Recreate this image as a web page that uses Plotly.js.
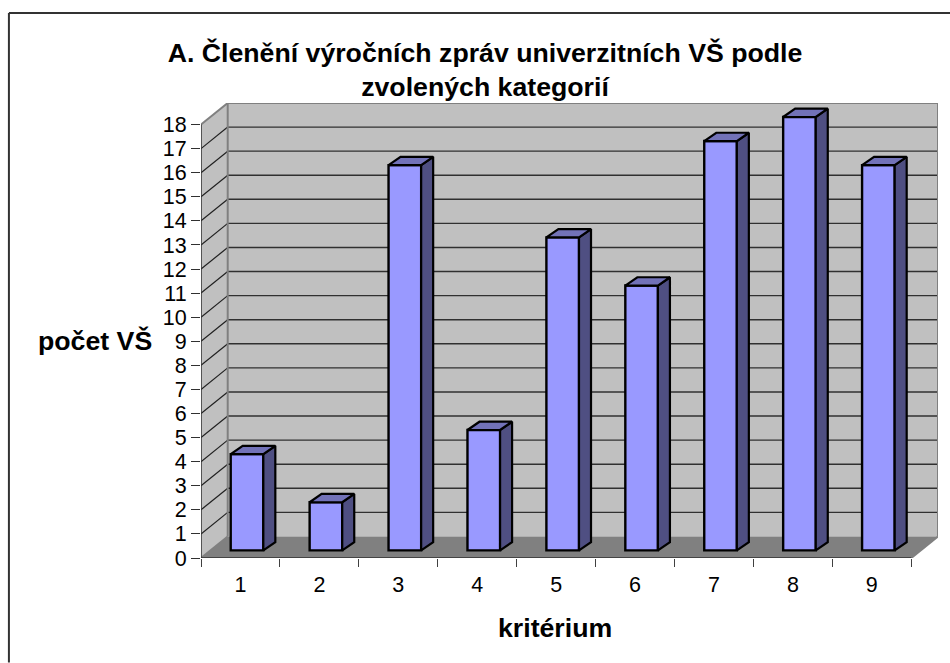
<!DOCTYPE html>
<html><head><meta charset="utf-8">
<script src="https://cdn.plot.ly/plotly-3.0.1.min.js"></script>
<style>html,body{margin:0;padding:0;background:#fff}</style></head>
<body><div id="chart" style="width:950px;height:663px"></div>
<script>
const categories = [1,2,3,4,5,6,7,8,9];
const values = [4,2,16,5,13,11,17,18,16];
const yTicks = [0,1,2,3,4,5,6,7,8,9,10,11,12,13,14,15,16,17,18];
const xBoundaries = [0.5,1.5,2.5,3.5,4.5,5.5,6.5,7.5,8.5,9.5];
const chartTitle = 'A. Členění výročních zpráv univerzitních VŠ podle<br>zvolených kategorií';
const xTitle = 'kritérium';
const yTitle = 'počet VŠ';

// Geometry of the pseudo-3D box, in data units
const pxX = 78.9, pxY = 24.11;
const depthX = 26.7/pxX, depthY = 21.6/pxY;
const barOff = -9.75/pxX, barW = 32.6/pxX;
const barBase = 7.6/pxY;
const barDX = 12/pxX, barDY = 8.3/pxY;
const xMin = 0.5, xMax = 9.5, yMax = 18;
const font = 'Liberation Sans, Arial, sans-serif';

const poly = pts => 'M' + pts.map(p => p[0]+','+p[1]).join('L') + 'Z';
const line = (x0,y0,x1,y1,color,width) => ({type:'line',xref:'x',yref:'y',layer:'below',x0,y0,x1,y1,line:{color,width}});
const fillShape = (pts,color) => ({type:'path',xref:'x',yref:'y',layer:'below',path:poly(pts),fillcolor:color,line:{width:0}});

const shapes = [
  fillShape([[xMin,0],[xMin+depthX,depthY],[xMin+depthX,yMax+depthY],[xMin,yMax]],'#c0c0c0'),
  fillShape([[xMin+depthX,depthY],[xMax+depthX,depthY],[xMax+depthX,yMax+depthY],[xMin+depthX,yMax+depthY]],'#c0c0c0'),
  fillShape([[xMin,0],[xMax,0],[xMax+depthX,depthY],[xMin+depthX,depthY]],'#808080')
];
yTicks.slice(1,-1).forEach(v => {
  shapes.push(line(xMin+depthX,v+depthY,xMax+depthX,v+depthY,'#303030',1.4));
  shapes.push(line(xMin,v,xMin+depthX,v+depthY,'#202020',1.2));
});
shapes.push(line(xMin,yMax,xMin+depthX,yMax+depthY,'#808080',2));
shapes.push(line(xMin+depthX,yMax+depthY,xMax+depthX,yMax+depthY,'#808080',2));
shapes.push(line(xMin+depthX,depthY,xMin+depthX,yMax+depthY,'#808080',2));
shapes.push(line(xMax+depthX,depthY,xMax+depthX,yMax+depthY,'#808080',2));
shapes.push(line(xMax,0,xMax+depthX,depthY,'#808080',2));
shapes.push(line(xMin,0,xMin+depthX,depthY,'#808080',2));
shapes.push(line(xMin,0,xMin,yMax,'#303030',1.5));
shapes.push(line(xMin,0,xMax,0,'#303030',1.5));
// chart frame: only the left and top edges fall inside the picture
shapes.push({type:'line',xref:'paper',yref:'paper',x0:(9-201)/736.7,x1:(950-201)/736.7,y0:(663-104.7-12.7)/455.6,y1:(663-104.7-12.7)/455.6,line:{color:'#333',width:2}});
shapes.push({type:'line',xref:'paper',yref:'paper',x0:(9-201)/736.7,x1:(9-201)/736.7,y0:(558.3-12.7)/455.6,y1:(558.3-663)/455.6,line:{color:'#333',width:2}});

const sideX=[],sideY=[],topX=[],topY=[];
categories.forEach((c,i)=>{
  const L=c+barOff,R=L+barW,t=barBase+values[i];
  sideX.push(R,R+barDX,R+barDX,R,R,null);
  sideY.push(barBase,barBase+barDY,t+barDY,t,barBase,null);
  topX.push(L,L+barDX,R+barDX,R,L,null);
  topY.push(t,t+barDY,t+barDY,t,t,null);
});

const traces = [
  {type:'bar',x:categories,y:values,base:barBase,offset:barOff,width:barW,
   marker:{color:'#9999ff',line:{color:'#000',width:2.4}},hoverinfo:'x+y'},
  {type:'scatter',mode:'lines',x:sideX,y:sideY,fill:'toself',fillcolor:'#4f4f82',
   line:{color:'#000',width:2.2},hoverinfo:'skip'},
  {type:'scatter',mode:'lines',x:topX,y:topY,fill:'toself',fillcolor:'#7272b8',
   line:{color:'#000',width:2.2},hoverinfo:'skip'}
];

const layout = {
  width:950,height:663,autosize:false,showlegend:false,
  paper_bgcolor:'#fff',plot_bgcolor:'rgba(0,0,0,0)',
  margin:{l:201,r:12.3,t:102.7,b:104.7,pad:0},
  font:{family:font,color:'#000'},
  title:{text:chartTitle,x:485/950,xanchor:'center',y:1-61.5/663,yanchor:'middle',
         font:{family:font,size:26.7,color:'#000',weight:'bold'}},
  xaxis:{type:'linear',range:[xMin,xMax+depthX],tickmode:'array',tickvals:categories,ticktext:categories.map(String),
    ticks:'outside',ticklen:7,tickcolor:'rgba(0,0,0,0)',tickfont:{size:21.5,family:font},
    showgrid:false,zeroline:false,showline:false,
    minor:{tickmode:'array',tickvals:xBoundaries,ticks:'outside',ticklen:8,tickcolor:'#404040',tickwidth:1,showgrid:false}},
  yaxis:{type:'linear',range:[0,yMax+depthY],tickmode:'array',tickvals:yTicks,ticktext:yTicks.map(String),
    ticks:'outside',ticklen:9,tickwidth:1,tickcolor:'#303030',tickfont:{size:21.5,family:font},
    showgrid:false,zeroline:false,showline:false},
  annotations:[
    {text:yTitle,xref:'paper',yref:'paper',x:(95-201)/736.7,y:(558.3-341)/455.6,
    xanchor:'center',yanchor:'middle',showarrow:false,font:{family:font,size:26.7,weight:'bold',color:'#000'}},
    {text:xTitle,xref:'paper',yref:'paper',x:(555-201)/736.7,y:(558.3-628)/455.6,
    xanchor:'center',yanchor:'middle',showarrow:false,font:{family:font,size:26.7,weight:'bold',color:'#000'}}],
  shapes
};
Plotly.newPlot('chart',traces,layout,{displayModeBar:false,staticPlot:true});
</script></body></html>
